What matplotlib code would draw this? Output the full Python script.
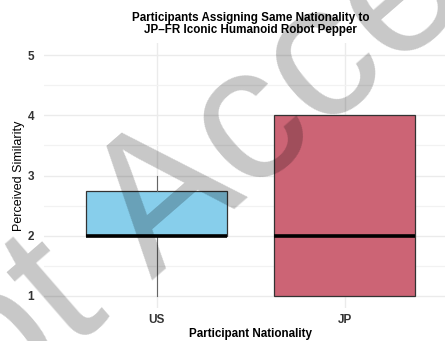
import matplotlib
matplotlib.use("Agg")
import matplotlib.pyplot as plt

# Perceived similarity ratings, summarised per participant nationality
groups = ["US", "JP"]
whisker_low = [1.0, 1.0]
quartile_1 = [2.0, 1.0]
medians = [2.0, 2.0]
quartile_3 = [2.75, 4.0]
whisker_high = [3.0, 4.0]
fill_colors = ["#87CEEB", "#CC6475"]

y_ticks = [1, 2, 3, 4, 5]
title = "Participants Assigning Same Nationality to\nJP\u2013FR Iconic Humanoid Robot Pepper"

plt.rcParams["font.family"] = ["Liberation Sans", "DejaVu Sans"]

W, H = 445, 341
fig = plt.figure(figsize=(W / 100, H / 100), dpi=100)
fig.patch.set_facecolor("white")

left_px, right_px, top_px, bottom_px = 44, 457.6, 43, 308
ax = fig.add_axes([left_px / W, 1 - bottom_px / H,
                   (right_px - left_px) / W, (bottom_px - top_px) / H])

stats = []
for i, g in enumerate(groups):
    stats.append(dict(label=g, whislo=whisker_low[i], q1=quartile_1[i],
                      med=medians[i], q3=quartile_3[i],
                      whishi=whisker_high[i], fliers=[]))
positions = list(range(1, len(groups) + 1))
bp = ax.bxp(stats, positions=positions, widths=0.75, patch_artist=True,
            showcaps=False, showfliers=False,
            boxprops=dict(edgecolor="#333333", linewidth=0.9),
            whiskerprops=dict(color="#666666", linewidth=0.8),
            medianprops=dict(color="black", linewidth=2.6, solid_capstyle="butt"),
            zorder=3)
for patch, c in zip(bp["boxes"], fill_colors):
    patch.set_facecolor(c)

ax.set_xlim(0.4, 2.6)
ax.set_ylim(0.8, 5.2)
ax.set_yticks(y_ticks)
ax.set_yticks([1.5, 2.5, 3.5, 4.5], minor=True)
ax.set_xticks(positions)
ax.set_xticklabels(groups)

ax.grid(True, which="major", color="#EBEBEB", linewidth=1.0, zorder=0)
ax.grid(True, which="minor", axis="y", color="#F2F2F2", linewidth=0.9, zorder=0)
ax.set_axisbelow(True)
for s in ax.spines.values():
    s.set_visible(False)
ax.tick_params(axis="both", which="both", length=0)
ax.tick_params(axis="y", pad=7, labelsize=8.5, labelcolor="#333333")
ax.tick_params(axis="x", pad=4, labelsize=8.5, labelcolor="#333333")
for lbl in ax.get_xticklabels() + ax.get_yticklabels():
    lbl.set_fontweight("bold")

ax.set_xlabel("Participant Nationality", fontsize=8.4, fontweight="bold", labelpad=2)
ax.set_ylabel("Perceived Similarity", fontsize=9, labelpad=2)
ax.set_title(title, fontsize=8.4, fontweight="bold", linespacing=1.0, pad=7)

# Diagonal watermark across the page
ax_px = (152, 281)
fx, fy = ax_px[0] / W, 1 - ax_px[1] / H
wm = dict(fontsize=138, color="black", alpha=0.22, rotation=41,
          rotation_mode="anchor", va="baseline", zorder=10)
fig.text(fx, fy, "Manuscript ", ha="right", **wm)
fig.text(fx, fy, "Accepted", ha="left", **wm)

fig.savefig("out.png", dpi=100, facecolor="white")
